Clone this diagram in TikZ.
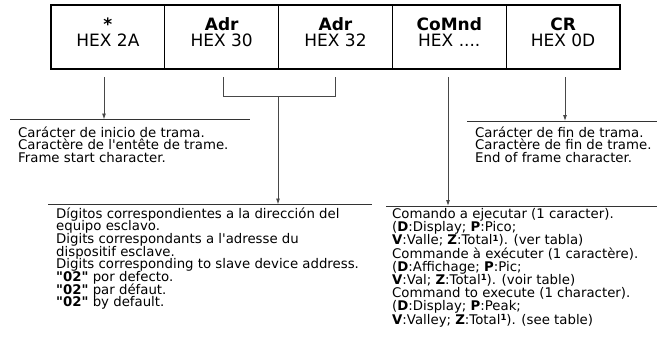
\documentclass[tikz,border=0pt]{standalone}
\usepackage{fontspec}
\newfontfamily\tah{DejaVu Sans}
\usetikzlibrary{arrows.meta}
\newcommand\desctext[2][12.7bp]{\parbox[t]{420bp}{\raggedright\tah\fontsize{13.3bp}{#1}\selectfont\lineskiplimit=-100bp\lineskip=0pt #2}}
\newcommand\hdrtext[2]{\parbox[t]{110bp}{\centering\tah\fontsize{17bp}{16bp}\selectfont\textbf{#1}\\#2}}
\newcommand\supone{\raisebox{3.6bp}{\fontsize{8.5bp}{8.5bp}\selectfont\bfseries 1}}
\begin{document}
\begin{tikzpicture}[x=1bp,y=-1bp,
  cell/.style={draw=black, line width=1.3bp, minimum width=113.8bp, minimum height=64bp, inner sep=0pt, outer sep=0pt},
  frame/.style={draw=black, line width=2.6bp},
  hdr/.style={anchor=base, inner sep=0pt},
  conn/.style={draw=black!72, line width=0.9bp},
  arr/.style={conn, -{Latex[length=6bp,width=4bp]}},
  rule/.style={draw=black!80, line width=0.9bp},
  desc/.style={anchor=base west, inner sep=0pt}]
\useasboundingbox (0,0) rectangle (659,357);
% frame cells
\node[cell] (c1) at (107.9,37) {};
\node[cell] (c2) at (221.7,37) {};
\node[cell] (c3) at (335.5,37) {};
\node[cell] (c4) at (449.3,37) {};
\node[cell] (c5) at (563.1,37) {};
\draw[frame] (c1.north west) rectangle (c5.south east);
% headers
\node[hdr] (h1) at (107.9,30) {\hdrtext{*}{HEX 2A}};
\node[hdr] (h2) at (221.7,30) {\hdrtext{Adr}{HEX 30}};
\node[hdr] (h3) at (335.5,30) {\hdrtext{Adr}{HEX 32}};
\node[hdr] (h4) at (449.3,30) {\hdrtext{CoMnd}{HEX ....}};
\node[hdr] (h5) at (563.1,30) {\hdrtext{CR}{HEX 0D}};
% start character
\coordinate (s1) at (104,77);
\coordinate (e1) at (104,119.5);
\coordinate (r1a) at (10,119.5);
\coordinate (r1b) at (250,119.5);
\draw[arr] (s1) -- (e1);
\draw[rule] (r1a) -- (r1b);
\node[desc] (t1) at (18,137) {\desctext{Carácter de inicio de trama.\\
Caractère de l'entête de trame.\\
Frame start character.}};
% address bracket
\coordinate (b1) at (223,77);
\coordinate (b2) at (335,77);
\coordinate (b3) at (278,96.5);
\coordinate (e2) at (278,204.5);
\coordinate (r2a) at (48,204.5);
\coordinate (r2b) at (372,204.5);
\draw[conn] (b1) |- (b3) -| (b2);
\draw[arr] (b3) -- (e2);
\draw[rule] (r2a) -- (r2b);
\node[desc] (t3) at (56,218) {\desctext{Dígitos correspondientes a la dirección del\\
equipo esclavo.\\
Digits correspondants a l'adresse du\\
dispositif esclave.\\
Digits corresponding to slave device address.\\
\textbf{"02"} por defecto.\\
\textbf{"02"} par défaut.\\
\textbf{"02"} by default.}};
% command
\coordinate (s4) at (448,77);
\coordinate (e4) at (448,206);
\coordinate (r4a) at (386,206);
\coordinate (r4b) at (657,206);
\draw[arr] (s4) -- (e4);
\draw[rule] (r4a) -- (r4b);
\node[desc] (t4) at (392,218.5) {\desctext[13.2bp]{Comando a ejecutar (1 caracter).\\
(\textbf{D}:Display; \textbf{P}:Pico;\\
\textbf{V}:Valle; \textbf{Z}:Total\supone). (ver tabla)\\
Commande à exécuter (1 caractère).\\
(\textbf{D}:Affichage; \textbf{P}:Pic;\\
\textbf{V}:Val; \textbf{Z}:Total\supone). (voir table)\\
Command to execute (1 character).\\
(\textbf{D}:Display; \textbf{P}:Peak;\\
\textbf{V}:Valley; \textbf{Z}:Total\supone). (see table)}};
% end character
\coordinate (s5) at (565,77);
\coordinate (e5) at (565,121);
\coordinate (r5a) at (467,121);
\coordinate (r5b) at (657,121);
\draw[arr] (s5) -- (e5);
\draw[rule] (r5a) -- (r5b);
\node[desc] (t5) at (475,137) {\desctext{Carácter de fin de trama.\\
Caractère de fin de trame.\\
End of frame character.}};
\end{tikzpicture}
\end{document}
